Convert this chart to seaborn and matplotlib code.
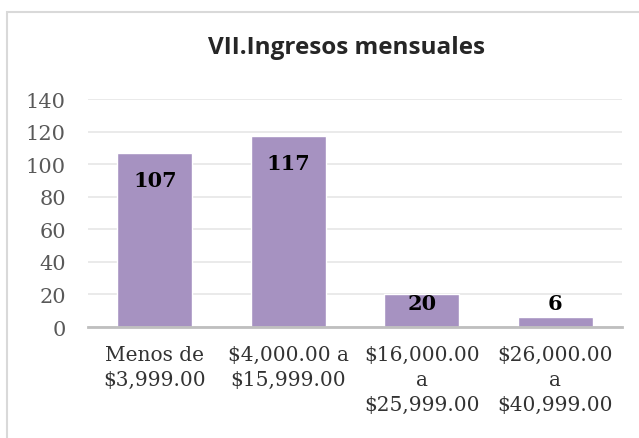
import matplotlib
matplotlib.use("Agg")
import matplotlib.pyplot as plt
import matplotlib.patches as mpatches
import pandas as pd
import seaborn as sns

# datos del grafico
categorias = ["Menos de\n$3,999.00", "$4,000.00 a\n$15,999.00",
              "$16,000.00\na\n$25,999.00", "$26,000.00\na\n$40,999.00"]
valores = [107, 117, 20, 6]
yticks = [0, 20, 40, 60, 80, 100, 120, 140]
titulo = "VII.Ingresos mensuales"

df = pd.DataFrame({"rango": categorias, "n": valores})

sns.set_style("white")
plt.rcParams["font.family"] = ["DejaVu Serif"]

fig = plt.figure(figsize=(6.39, 4.39), dpi=100)
ax = fig.add_axes([88 / 639, 1 - 328 / 439, (622 - 88) / 639, (328 - 100) / 439])

sns.barplot(data=df, x="rango", y="n", color="#A692C1", saturation=1,
            width=0.56, ax=ax, zorder=3)

ax.set_ylim(0, 140)
ax.set_yticks(yticks)
ax.yaxis.grid(True, color="#E6E6E6", linewidth=1.2, zorder=0)
ax.set_axisbelow(True)
for s in ["top", "right", "left"]:
    ax.spines[s].set_visible(False)
ax.spines["bottom"].set_color("#BFBFBF")
ax.spines["bottom"].set_linewidth(2)
ax.spines["bottom"].set_zorder(4)
ax.set_xlabel("")
ax.set_ylabel("")
ax.tick_params(axis="both", length=0)
ax.tick_params(axis="y", labelsize=15, labelcolor="#595959", pad=16)
ax.tick_params(axis="x", labelsize=14.5, labelcolor="#333333", pad=13)
for lbl in ax.get_xticklabels():
    lbl.set_linespacing(1.4)

# etiquetas de datos
for i, v in enumerate(valores):
    ax.text(i, max(v - 16.5, 15), str(v), ha="center", va="center",
            fontsize=15, fontweight="bold", color="black", zorder=5)

fig.text(346 / 639, 1 - 48 / 439, titulo, ha="center", va="center",
         fontsize=17.5, fontweight="bold", family=["Open Sans", "DejaVu Sans"])

# borde del area del grafico
fig.patches.append(mpatches.Rectangle((7 / 639, -0.05), 1.0, 1 - 13 / 439 + 0.05,
                                      transform=fig.transFigure, fill=False,
                                      edgecolor="#D9D9D9", linewidth=1.5))

fig.savefig("out.png", dpi=100)
